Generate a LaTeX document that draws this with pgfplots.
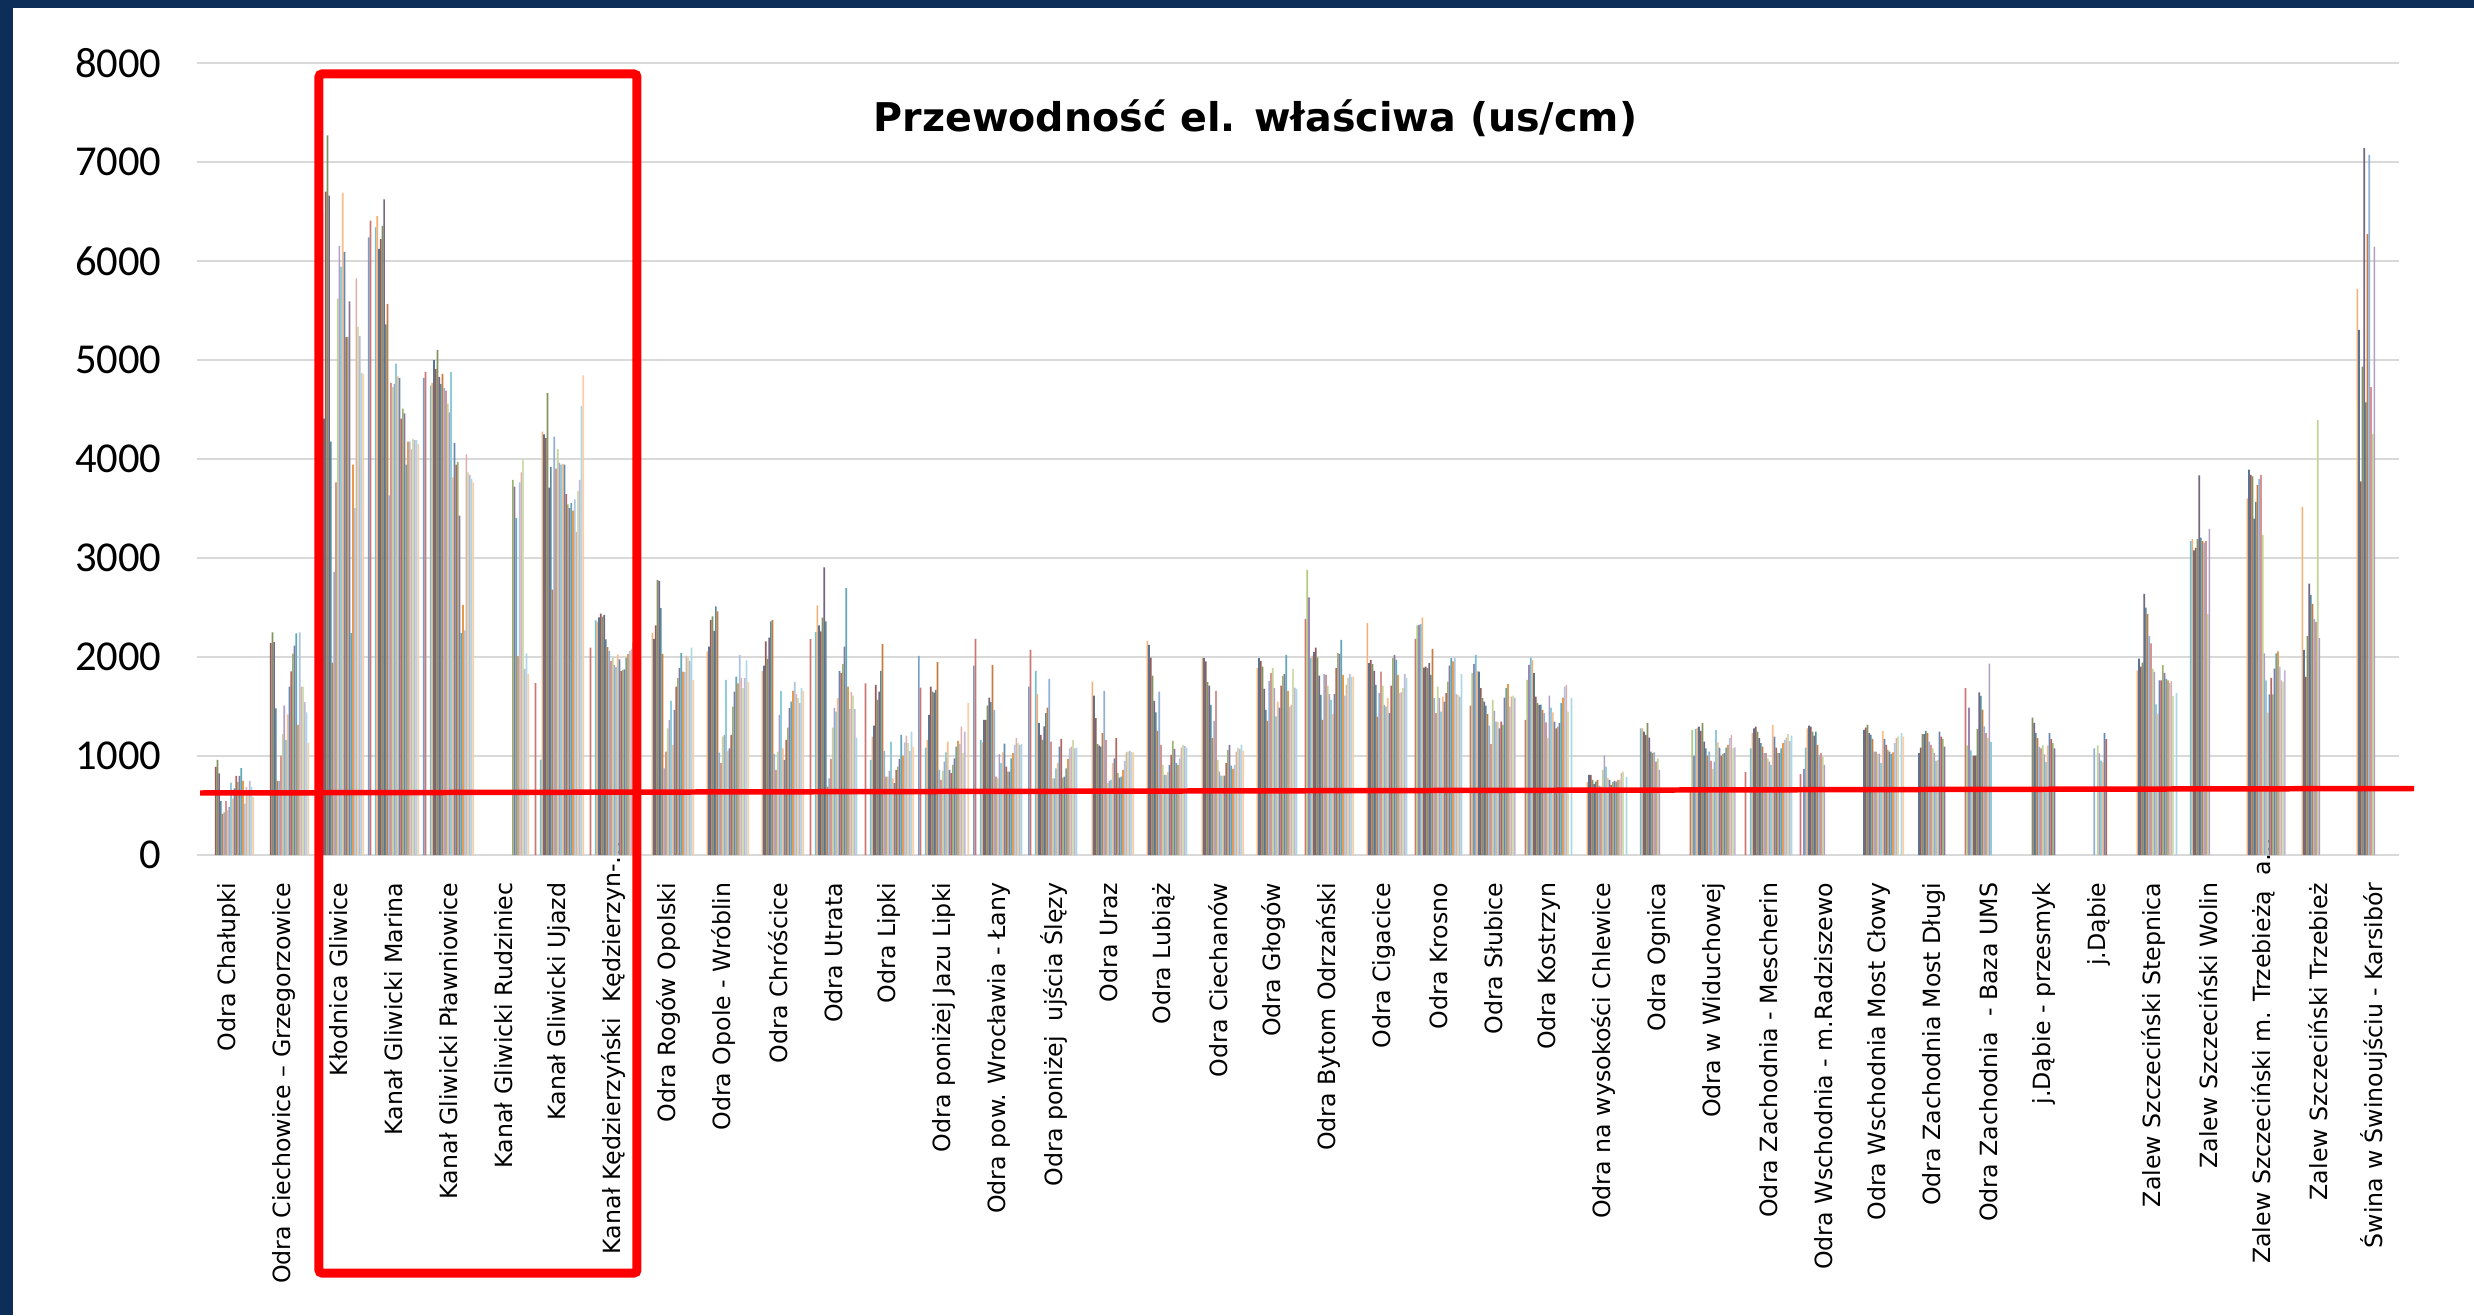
\documentclass[border=0pt]{standalone}
\usepackage{pgfplots}
\pgfplotsset{compat=1.18}
\usepackage{pgfplotstable}
\usepackage{fontspec}
\newfontfamily\dejavu{DejaVu Sans}
\newfontfamily\carlito{Carlito}
\definecolor{navyframe}{HTML}{0E2E5A}
\definecolor{gridgray}{HTML}{D9D9D9}
\definecolor{c0}{HTML}{4F81BD}\definecolor{c1}{HTML}{C0504D}\definecolor{c2}{HTML}{9BBB59}
\definecolor{c3}{HTML}{8064A2}\definecolor{c4}{HTML}{4BACC6}\definecolor{c5}{HTML}{F79646}
\definecolor{c6}{HTML}{2C4D75}\definecolor{c7}{HTML}{772C2A}\definecolor{c8}{HTML}{5F7530}
\definecolor{c9}{HTML}{4D3B62}\definecolor{c10}{HTML}{276A7C}\definecolor{c11}{HTML}{B65708}
\definecolor{c12}{HTML}{729ACA}\definecolor{c13}{HTML}{CD7371}\definecolor{c14}{HTML}{AFC97A}
\definecolor{c15}{HTML}{9983B5}\definecolor{c16}{HTML}{6FBDD1}\definecolor{c17}{HTML}{F9AB6B}
\definecolor{c18}{HTML}{3A679C}\definecolor{c19}{HTML}{9F3B38}\definecolor{c20}{HTML}{7E9D40}
\definecolor{c21}{HTML}{664F83}\definecolor{c22}{HTML}{358EA6}\definecolor{c23}{HTML}{E07C1A}
\definecolor{c24}{HTML}{95B3D7}\definecolor{c25}{HTML}{D99694}\definecolor{c26}{HTML}{C3D69B}
\definecolor{c27}{HTML}{B2A2C7}\definecolor{c28}{HTML}{93CDDD}\definecolor{c29}{HTML}{FAC090}
\newcommand{\upshift}[2]{\makebox[\dimexpr\width-#1\relax][l]{#2}}

\pgfplotstableread{
x v0 v1 v2 v3 v4 v5 v6 v7 v8 v9 v10 v11 v12 v13 v14 v15 v16 v17 v18 v19 v20 v21 v22 v23 v24 v25 v26 v27 v28 v29
0 nan nan nan nan nan nan nan 890 960 825 545 415 430 545 450 485 730 570 673 800 740 800 877 750 520 687 656 750 687 585
1 nan nan nan nan nan nan nan 2140 2250 2150 1480 750 750 1005 1220 1510 1160 1420 1700 1855 2035 2115 2240 1315 2250 1700 1700 1545 1440 1135
2 nan nan nan nan nan 6485 4408 6700 7270 6660 4175 1943 2860 3763 5620 6150 5944 6686 6093 5232 5232 5593 2242 3943 3505 5825 5335 5242 4870 4860
3 6238 6408 nan nan 6340 6454 6124 6222 6356 6624 5361 5567 3634 4768 4727 4760 4964 4835 4820 4408 4510 4460 3944 4175 4175 4098 4200 4190 4190 4150
4 4820 4880 nan nan 4742 4768 5000 4907 5103 4830 4757 4860 4717 4690 4560 4470 4880 3815 4160 3943 3970 3428 2242 2526 2268 4047 3866 3840 3800 3763
5 nan nan nan nan nan nan nan nan nan nan nan nan nan nan nan nan nan nan nan nan 3789 3722 3402 2010 3763 3866 4005 1880 2036 1830
6 nan 1737 nan nan 964 4278 4250 4211 4665 3712 3918 2680 4227 3902 4100 3960 3943 3950 3943 3645 3541 3505 3555 3480 3593 3263 3676 3789 4536 4846
7 nan 2094 nan nan 2371 2356 2400 2439 2407 2425 2179 2100 2060 1959 1990 1920 1898 2027 1975 1858 1870 1875 1993 2030 2060 2077 2145 2150 2100 2120
8 nan nan nan nan nan 2241 2184 2319 2780 2770 2494 2032 876 1045 1280 1365 1557 1112 1466 1702 1786 1887 2039 1853 1847 2015 1995 1960 2096 1769
9 nan nan nan nan nan 2056 2106 2376 2410 2265 2511 2460 1035 927 1196 1213 1769 1051 1078 1213 1500 1651 1803 1735 2022 1786 1685 1786 1965 1746
10 nan nan nan nan nan 1860 1914 2157 1981 2197 2359 2376 1018 859 1045 1415 1658 1078 960 1163 1287 1483 1550 1658 1746 1624 1584 1533 1685 1658
11 nan 2180 nan nan 2251 2521 2319 2258 2399 2905 2359 691 775 971 1287 1483 1449 1584 1860 1837 1928 2106 2696 1702 1476 1645 1611 1473 1186 nan
12 nan 1735 nan nan 960 1196 1308 1719 1567 1651 1860 2130 1051 792 792 849 1146 775 725 859 893 971 1213 1004 1139 1206 1129 1050 1247 1095
13 2012 1692 nan nan 1085 1163 1415 1702 1651 1641 1668 1948 859 758 849 944 1038 1146 859 826 910 977 1095 1153 1119 1297 1028 1247 nan 1533
14 1914 2184 nan nan 1163 1139 1365 1365 1510 1591 1544 1921 1466 792 775 1018 927 1038 1126 893 842 842 977 1028 1112 1180 1130 1112 1120 nan
15 1702 2072 nan nan 1860 1624 1331 1213 1163 1300 1432 1490 1779 1146 775 775 876 927 1095 1173 782 792 876 971 1078 1095 1163 1078 1085 nan
16 nan nan nan nan nan 1752 1611 1382 1119 1105 1095 1230 1658 1163 725 748 758 927 977 1180 826 782 792 859 950 1038 1045 1051 1040 1038
17 nan nan nan nan nan 2164 2123 1995 1813 1557 1442 1254 1651 1112 910 809 809 836 910 1011 1153 1072 927 910 977 1085 1112 1100 1085 nan
18 nan nan nan nan nan 1995 1988 1955 1746 1712 1517 1180 1355 1658 960 842 802 802 802 927 1062 1112 903 869 910 1045 1085 1070 1112 1051
19 nan nan nan nan nan 1887 1988 1961 1904 1678 1466 1355 1759 1837 1887 1685 1400 1550 1490 1712 1813 1827 2022 1658 1500 1517 1880 1692 1678 nan
20 nan 2386 2881 2602 1988 2015 2049 2096 1995 1813 1618 1365 1827 1820 1712 1624 1567 1422 1624 1887 2039 2029 2174 1820 1611 1719 1786 1827 1803 1803
21 nan nan nan nan nan 2342 1938 1971 1928 1860 1719 1399 1634 1853 1712 1517 1500 1584 1432 1712 1988 2022 1971 1820 1634 1645 1685 1827 1786 nan
22 nan 2184 2319 2325 2332 2399 1894 1904 1887 1938 1820 2083 1584 1432 1702 1584 1449 1601 1550 1634 1752 1914 1988 1955 1995 1624 1618 1600 1827 nan
23 nan 1510 1837 1928 2022 1860 1853 1685 1584 1550 1510 1422 1308 1119 1567 1456 1348 1348 1280 1348 1314 1591 1685 1725 1500 1601 1611 1591 nan nan
24 nan 1365 1769 1921 1995 1971 1837 1600 1533 1517 1520 1466 1432 1341 1180 1611 1490 1440 1348 1280 1297 1331 1533 1591 1702 1719 1449 nan 1584 nan
25 nan nan nan nan nan 735 809 809 758 718 741 758 701 691 859 1004 893 782 758 708 735 748 741 758 758 826 842 nan 790 nan
26 nan nan nan nan 1280 1280 1247 1213 1331 1186 1045 1028 1038 944 977 859 nan nan nan nan nan nan nan nan nan nan nan nan nan nan
27 nan 674 1264 1004 1274 1287 1297 1254 1331 1146 1078 1004 1045 950 869 944 1264 1139 1085 1004 1018 1028 1085 1112 1180 1213 1078 1088 nan nan
28 nan 836 nan nan 1078 1230 1280 1297 1247 1180 1129 1095 1028 1028 977 944 910 1314 1196 1085 1028 1028 1078 1129 1163 1186 1220 1150 1206 nan
29 nan 816 nan 869 1085 1280 1308 1297 1247 1206 1247 1112 1011 1028 994 910 nan nan nan nan nan nan nan nan nan nan nan nan nan nan
30 nan nan nan nan nan nan 1264 1287 1314 1230 1213 1173 1045 1045 1018 1025 927 1254 1173 1112 1062 1045 1018 1038 1129 1180 1196 nan 1230 1196
31 nan nan nan nan nan nan 1028 1085 1220 1220 1254 1230 1146 1112 1078 1028 950 960 1247 1196 1173 1095 nan nan nan nan nan nan nan nan
32 nan 1686 1108 1490 1057 1005 1005 1005 1273 1644 1608 1469 1299 1232 1180 1933 1144 nan nan nan nan nan nan nan nan nan nan nan nan nan
33 nan nan nan nan nan nan nan nan 1387 1335 1232 1180 1093 1077 1108 1016 938 1108 1232 1170 1129 1077 nan nan nan nan nan nan nan nan
34 nan nan nan nan nan nan nan nan nan nan nan nan 1077 nan 1108 1026 954 938 1232 1170 nan nan nan nan nan nan nan nan nan nan
35 nan nan nan nan nan 1866 1985 1902 1943 2639 2500 2433 2212 2139 1882 1851 1521 1428 1763 1763 1918 1840 1778 1763 1737 1760 1608 nan 1634 nan
36 nan nan nan nan 3170 3191 3077 3103 3191 3835 3206 3170 3155 3170 2433 3294 nan nan nan nan nan nan nan nan nan nan nan nan nan nan
37 nan nan nan nan nan 3603 3892 3840 3825 3397 3567 3737 3799 3840 3232 2036 1763 1438 1623 1789 1623 1882 2036 2056 1902 1763 1750 1866 nan nan
38 nan nan nan nan nan 3516 2072 1799 2212 2742 2624 2536 2382 2356 4392 2191 nan nan nan nan nan nan nan nan nan nan nan nan nan nan
39 nan nan nan nan nan 5717 5304 3773 4933 7140 4573 6273 7073 4727 4253 6145 nan nan nan nan nan nan nan nan nan nan nan nan nan nan
}\datatable

\begin{document}
\begin{tikzpicture}
\useasboundingbox (0,0) rectangle (824.667pt,438.333pt);
\fill[white] (0,0) rectangle (824.667pt,438.333pt);
\fill[navyframe] (0,0) rectangle (4.33pt,438.333pt);
\fill[navyframe] (0,435.67pt) rectangle (824.667pt,438.333pt);
\begin{axis}[
  at={(65.667pt,153.333pt)}, anchor=south west,
  scale only axis, width=734pt, height=264pt,
  xmin=-0.5727, xmax=39.4636, ymin=0, ymax=8000,
  ybar=0pt, bar width=0.5667pt,
  axis line style={draw=none},
  ytick={0,1000,...,8000},
  scaled y ticks=false,
  ymajorgrids, major grid style={draw=gridgray, line width=0.7pt},
  xtick={0,...,39},
  xticklabels={Odra Chałupki, Odra Ciechowice – Grzegorzowice, Kłodnica Gliwice, Kanał Gliwicki Marina, Kanał Gliwicki Pławniowice, Kanał Gliwicki Rudziniec, Kanał Gliwicki Ujazd, \upshift{14pt}{Kanał Kędzierzyński\ \ Kędzierzyn-…}, Odra Rogów Opolski, Odra Opole - Wróblin, Odra Chróścice, Odra Utrata, Odra Lipki, Odra poniżej Jazu Lipki, Odra pow. Wrocławia - Łany, Odra poniżej\ \ ujścia Ślęzy, Odra Uraz, Odra Lubiąż, Odra Ciechanów, Odra Głogów, Odra Bytom Odrzański, Odra Cigacice, Odra Krosno, Odra Słubice, Odra Kostrzyn, Odra na wysokości Chlewice, Odra Ognica, Odra w Widuchowej, Odra Zachodnia - Mescherin, Odra Wschodnia - m.Radziszewo, Odra Wschodnia Most Cłowy, Odra Zachodnia Most Długi, Odra Zachodnia\ \ - Baza UMS, j.Dąbie - przesmyk, j.Dąbie, Zalew Szczeciński Stepnica, Zalew Szczeciński Wolin, \upshift{15pt}{Zalew Szczeciński m. Trzebieżą\ \ a…}, Zalew Szczeciński Trzebież, Świna w Świnoujściu - Karsibór},
  major tick length=0pt,
  xticklabel style={yshift=-5.7pt, rotate=90, anchor=east, font=\dejavu\fontsize{7.9}{9}\selectfont, text=black},
  yticklabel style={xshift=-8.3pt, font=\carlito\fontsize{14.2}{16}\selectfont, text=black},
  /pgf/number format/assume math mode=true,
  /pgf/number format/set thousands separator={},
]
\pgfplotsinvokeforeach{0,...,29}{
  \addplot[fill=c#1!78!white, draw=none] table[x=x, y=v#1] {\datatable};
}
\end{axis}
\node[anchor=base west, inner sep=0pt, font=\dejavu\bfseries\fontsize{13.2}{15}\selectfont] at (291pt,394.4pt) {Przewodność el. właściwa (us/cm)};
\draw[red, line width=1.83pt] (66.67pt,174pt) -- (804.67pt,175.5pt);
\draw[red, line width=3pt, rounded corners=1pt] (106.33pt,14pt) rectangle (212.33pt,413.67pt);
\end{tikzpicture}
\end{document}
